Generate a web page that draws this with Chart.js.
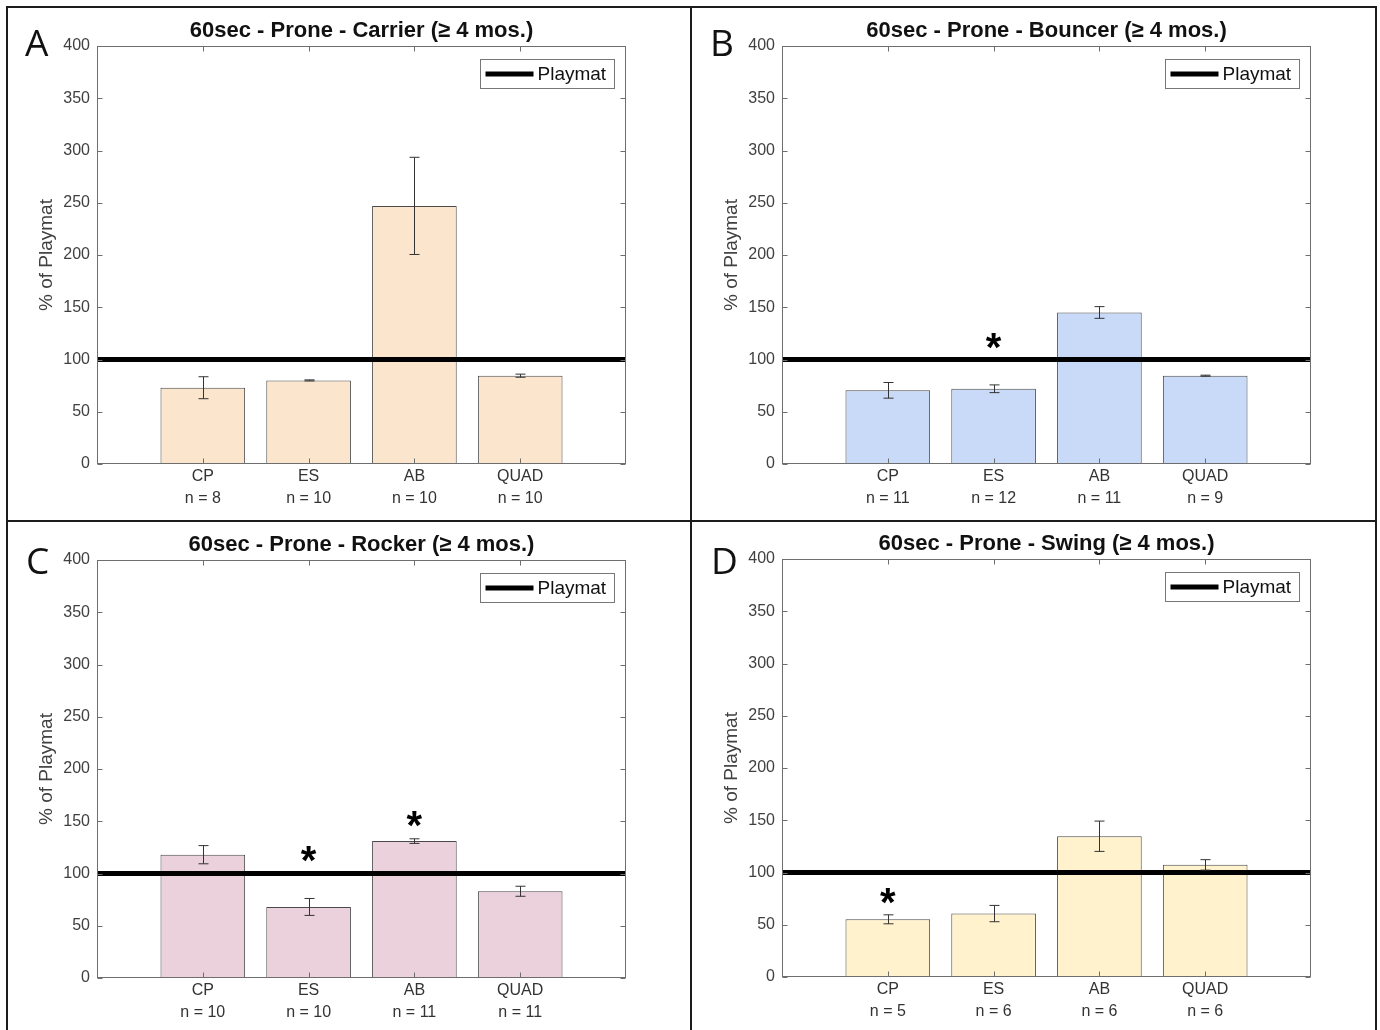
<!DOCTYPE html>
<html>
<head>
<meta charset="utf-8">
<script src="https://cdn.jsdelivr.net/npm/chart.js@4.4.1/dist/chart.umd.min.js"></script>
<style>
  body { margin: 0; background: #fff; }
  #fig { position: relative; width: 1380px; height: 1030px; overflow: hidden; background: #fff; }
  .panel { position: absolute; width: 678px; height: 510px; }
  .letter { position: absolute; font-family: "Open Sans", sans-serif; font-size: 37px; line-height: 1; color: #111; }
  .rule { position: absolute; background: #1c1c1c; }
</style>
</head>
<body>
<div id="fig">
  <div class="rule" style="left:6px;top:6px;width:1371px;height:2px"></div>
  <div class="rule" style="left:6px;top:6px;width:2px;height:1024px"></div>
  <div class="rule" style="left:1375px;top:6px;width:2px;height:1024px"></div>
  <div class="rule" style="left:690px;top:6px;width:2px;height:1024px"></div>
  <div class="rule" style="left:6px;top:520px;width:1371px;height:2px"></div>

  <canvas class="panel" id="carrier" width="678" height="510" style="left:10px;top:9px"></canvas>
  <canvas class="panel" id="bouncer" width="678" height="510" style="left:695px;top:9px"></canvas>
  <canvas class="panel" id="rocker" width="678" height="510" style="left:10px;top:523px"></canvas>
  <canvas class="panel" id="swing" width="678" height="510" style="left:695px;top:522px"></canvas>

  <div class="letter" style="left:25px;top:23px">A</div>
  <div class="letter" style="left:710px;top:23px">B</div>
  <div class="letter" style="left:26px;top:541px">C</div>
  <div class="letter" style="left:711px;top:541px">D</div>
</div>

<script>
// data (% of Playmat, mean and error)
const categories = ["CP", "ES", "AB", "QUAD"];
const playmatLevel = 100;
const yMin = 0;
const yMax = 400;
const yStep = 50;

const carrierN = [8, 10, 10, 10];
const carrierMean = [73, 80, 247, 84.5];
const carrierErr = [10.5, 0.5, 46.5, 1.5];
const carrierStars = [null, null, null, null];

const bouncerN = [11, 12, 11, 9];
const bouncerMean = [70.5, 72, 145, 84.5];
const bouncerErr = [7.5, 3.7, 5.6, 0.5];
const bouncerStars = [null, 118, null, null];

const rockerN = [10, 10, 11, 11];
const rockerMean = [118, 68, 131, 83];
const rockerErr = [8.7, 8.1, 2.2, 4.8];
const rockerStars = [null, 119, 152, null];

const swingN = [5, 6, 6, 6];
const swingMean = [55.2, 60.7, 134.7, 107.3];
const swingErr = [4.3, 7.8, 14.5, 5];
const swingStars = [77.6, null, null, null];

const FONT = "'Liberation Sans', Arial, sans-serif";

// error bars, stars, axes box with inward ticks, boxed legend
const extras = {
  id: "extras",
  afterDatasetsDraw(chart, args, opts) {
    const ctx = chart.ctx;
    const xs = chart.scales.x, ys = chart.scales.y;
    ctx.save();
    ctx.strokeStyle = "#333";
    ctx.lineWidth = 1;
    opts.means.forEach((m, i) => {
      const px = Math.round(xs.getPixelForValue(i + 1)) + 0.5;
      const top = ys.getPixelForValue(m + opts.errors[i]);
      const bot = ys.getPixelForValue(m - opts.errors[i]);
      ctx.beginPath();
      ctx.moveTo(px, top); ctx.lineTo(px, bot);
      ctx.moveTo(px - 5, top); ctx.lineTo(px + 5, top);
      ctx.moveTo(px - 5, bot); ctx.lineTo(px + 5, bot);
      ctx.stroke();
    });
    ctx.fillStyle = "#000";
    ctx.font = "bold 40px " + FONT;
    ctx.textAlign = "center";
    ctx.textBaseline = "alphabetic";
    opts.stars.forEach((s, i) => {
      if (s === null) return;
      const mt = ctx.measureText("*");
      const cy = ys.getPixelForValue(s);
      const off = (mt.actualBoundingBoxAscent - mt.actualBoundingBoxDescent) / 2;
      ctx.fillText("*", xs.getPixelForValue(i + 1), cy + off);
    });
    ctx.restore();
  },
  afterDraw(chart) {
    const ctx = chart.ctx;
    const a = chart.chartArea;
    const xs = chart.scales.x, ys = chart.scales.y;
    ctx.save();
    ctx.strokeStyle = "#6e6e6e";
    ctx.lineWidth = 1;
    const L = Math.round(a.left) + 0.5, R = Math.round(a.right) - 0.5;
    const T = Math.round(a.top) + 0.5, B = Math.round(a.bottom) - 0.5;
    ctx.strokeRect(L, T, R - L, B - T);
    ctx.beginPath();
    ys.ticks.forEach(t => {
      const py = Math.round(ys.getPixelForValue(t.value)) + 0.5;
      ctx.moveTo(L, py); ctx.lineTo(L + 5, py);
      ctx.moveTo(R, py); ctx.lineTo(R - 5, py);
    });
    categories.forEach((c, i) => {
      const px = Math.round(xs.getPixelForValue(i + 1)) + 0.5;
      ctx.moveTo(px, B); ctx.lineTo(px, B - 5);
      ctx.moveTo(px, T); ctx.lineTo(px, T + 5);
    });
    ctx.stroke();

    // legend box
    const ds = chart.data.datasets[1];
    const w = 134, h = 29;
    const lx = Math.round(a.right - 12 - w) + 0.5, ly = Math.round(a.top + 13) + 0.5;
    ctx.fillStyle = "#fff";
    ctx.fillRect(lx, ly, w, h);
    ctx.strokeStyle = "#777";
    ctx.strokeRect(lx, ly, w, h);
    ctx.strokeStyle = ds.borderColor;
    ctx.lineWidth = ds.borderWidth;
    ctx.beginPath();
    ctx.moveTo(lx + 5, ly + h / 2);
    ctx.lineTo(lx + 53, ly + h / 2);
    ctx.stroke();
    ctx.fillStyle = "#111";
    ctx.font = "19px " + FONT;
    ctx.textAlign = "left";
    ctx.textBaseline = "middle";
    ctx.fillText(ds.label, lx + 57, ly + h / 2 + 1);
    ctx.restore();
  }
};

function makePanel(id, title, color, means, errors, ns, stars) {
  const labels = ["", ...categories.map((c, i) => [c, "n = " + ns[i]]), ""];
  new Chart(document.getElementById(id), {
    type: "bar",
    data: {
      labels: labels,
      datasets: [
        {
          label: "Mean",
          data: [null, ...means, null],
          backgroundColor: color,
          borderColor: "#4a4a4a",
          borderWidth: 1,
          barPercentage: 0.8,
          categoryPercentage: 1,
          order: 2,
        },
        {
          type: "line",
          label: "Playmat",
          data: labels.map(() => playmatLevel),
          borderColor: "#000",
          borderWidth: 5,
          pointRadius: 0,
          order: 1,
        },
      ],
    },
    options: {
      responsive: false,
      animation: false,
      devicePixelRatio: 1,
      layout: { padding: { left: 0, right: 62, top: 0, bottom: 5 } },
      plugins: {
        legend: { display: false },
        tooltip: { enabled: false },
        title: {
          display: true,
          text: title,
          fullSize: false,
          color: "#111",
          font: { family: FONT, size: 22, weight: "bold", lineHeight: 1.2 },
          padding: { top: 9, bottom: 1.6 },
        },
        extras: { means: means, errors: errors, stars: stars },
      },
      scales: {
        x: {
          type: "category",
          offset: false,
          grid: { display: false, drawTicks: false },
          border: { display: false },
          ticks: {
            color: "#333",
            font: { family: FONT, size: 16, lineHeight: 1.35 },
            padding: 2,
            autoSkip: false,
            maxRotation: 0,
          },
          afterFit: s => { s.height = 50; },
        },
        y: {
          min: yMin,
          max: yMax,
          grid: { display: false, drawTicks: false },
          border: { display: false },
          ticks: {
            stepSize: yStep,
            color: "#404040",
            font: { family: FONT, size: 16 },
            padding: 7,
          },
          title: {
            display: true,
            text: "% of Playmat",
            color: "#404040",
            font: { family: FONT, size: 19 },
            padding: { top: 25, bottom: 0 },
          },
          afterFit: s => { s.width = 87; },
        },
      },
    },
    plugins: [extras],
  });
}

makePanel("carrier", "60sec - Prone - Carrier (\u2265 4 mos.)", "#fce5cd", carrierMean, carrierErr, carrierN, carrierStars);
makePanel("bouncer", "60sec - Prone - Bouncer (\u2265 4 mos.)", "#c9daf8", bouncerMean, bouncerErr, bouncerN, bouncerStars);
makePanel("rocker", "60sec - Prone - Rocker (\u2265 4 mos.)", "#ead1dc", rockerMean, rockerErr, rockerN, rockerStars);
makePanel("swing", "60sec - Prone - Swing (\u2265 4 mos.)", "#fff2cc", swingMean, swingErr, swingN, swingStars);
</script>
</body>
</html>
